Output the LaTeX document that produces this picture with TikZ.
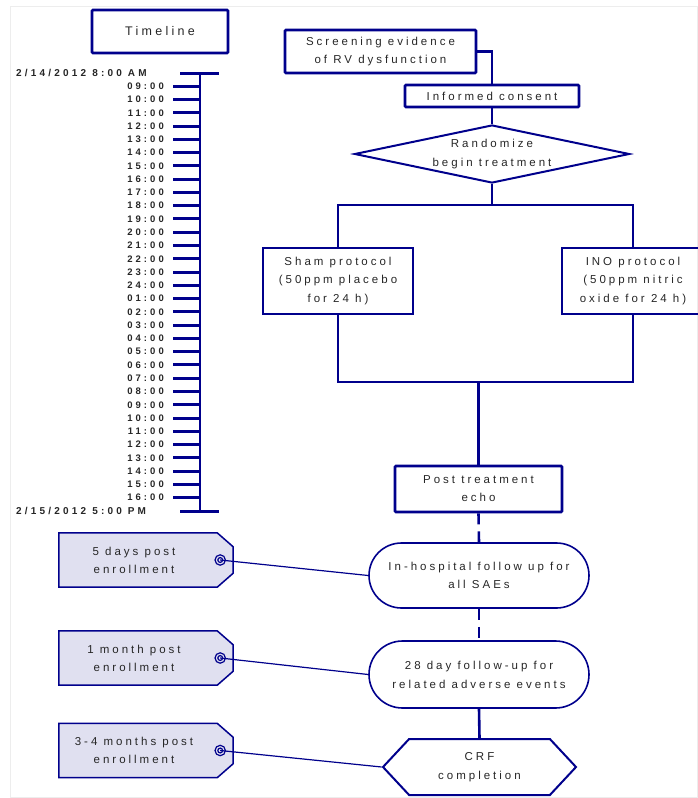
\documentclass[tikz,border=0pt]{standalone}
\usepackage{fontspec}
\setmainfont{Liberation Sans}[LetterSpace=26]
\newfontfamily\hourfont{Liberation Sans}[LetterSpace=32]
\usetikzlibrary{
    positioning,
    shapes.geometric,
    shapes.misc,
    shapes.symbols
}
\tikzset{
    % Colors
    chart color/.style={blue!55!black},
    text color/.style={text=black!85},
    tag fill/.style={fill=blue!35!gray!18!white},
    %
    % Boxes
    heavy box/.style={draw, chart color, line width=2.8pt, rounded corners=1pt, text color, align=center},
    plain box/.style={draw, chart color, line width=2pt, text color, align=center},
    round box/.style={draw, chart color, line width=1.6pt, rounded rectangle, text color, align=center,
        minimum width=220, inner sep=0pt},
    crf box/.style={draw, chart color, line width=2pt, signal, signal to=west and east,
        signal pointer angle=94, text color, align=center, minimum width=193, minimum height=56, inner sep=0pt},
    tag/.style={minimum width=174, minimum height=54, inner sep=0pt},
    tag outline/.style={chart color, line width=1.5pt, tag fill},
    tag text/.style={text color, align=center, inner sep=0pt},
    %
    % Lines
    flow/.style={chart color, line width=2.6pt},
    dashed flow/.style={flow, dash pattern=on 11pt off 7pt},
    tag line/.style={chart color, line width=1.2pt},
    %
    % Timeline
    axis line/.style={chart color, line width=2.6pt},
    tick/.style={chart color, line width=3pt},
    hour label/.style={text color, anchor=east, inner sep=0pt, font=\fontsize{9.5}{11}\hourfont\bfseries},
    date label/.style={hour label, anchor=west, font=\fontsize{10}{11}\hourfont\bfseries}
}
\tikzstyle{every node}=[font=\fontsize{11.5}{18}\selectfont]

\begin{document}
\begin{tikzpicture}[x=1pt, y=-1pt]
    \useasboundingbox (0,0) rectangle (698,798);
    \draw[black!7] (10,6) rectangle (697.5,797);

    % Timeline
    \node[heavy box, minimum width=136, minimum height=43, font=\fontsize{12.5}{14}\selectfont] (timeline) at (160,31.5) {Timeline};
    \coordinate (tl top) at (200,73);
    \coordinate (tl bot) at (200,511);
    \draw[axis line] (tl top) -- (tl bot);
    \draw[tick] ([xshift=-20]tl top) -- ([xshift=19]tl top);
    \draw[tick] ([xshift=-20]tl bot) -- ([xshift=19]tl bot);
    \node[date label] (start) at (16,73) {2/14/2012 8:00 AM};
    \node[date label] (end) at (16,511) {2/15/2012 5:00 PM};
    \foreach \h [count=\i] in {09,10,11,12,13,14,15,16,17,18,19,20,21,22,23,24,
                               01,02,03,04,05,06,07,08,09,10,11,12,13,14,15,16}{
        \node[hour label] (h\i) at (164,{73+\i*13.27}) {\h:00};
        \draw[tick] (173,{73+\i*13.27}) -- (200,{73+\i*13.27});
    }

    % Flow chart
    \node[heavy box, minimum width=191, minimum height=43, inner sep=0pt] (screen) at (380.5,51.5) {Screening evidence\\of RV dysfunction};
    \node[heavy box, minimum width=174, minimum height=22, inner sep=0pt] (consent) at (492,96) {Informed consent};
    \node[plain box, diamond, aspect=4.74, inner sep=0pt, minimum width=275, minimum height=58] (rand) at (492,154) {Randomize\\[1pt]begin treatment};
    \node[plain box, minimum width=150, minimum height=66, inner sep=0pt] (sham) at (338,281) {Sham protocol\\[0.5pt](50ppm placebo\\[0.5pt]for 24 h)};
    \node[plain box, minimum width=142, minimum height=66, inner sep=0pt] (ino) at (633,281) {INO protocol\\[0.5pt](50ppm nitric\\[0.5pt]oxide for 24 h)};
    \node[heavy box, minimum width=167, minimum height=46, inner sep=0pt] (post) at (478.5,489) {Post treatment\\echo};
    \node[round box, minimum height=65] (hosp) at (479,575.5) {In-hospital follow up for\\all SAEs};
    \node[round box, minimum height=67] (day28) at (479,674.5) {28 day follow-up for\\[1pt]related adverse events};
    \node[crf box] (crf) at (479.5,767) {CRF\\[1pt]completion};

    \coordinate (split) at (492,205);
    \coordinate (merge) at (478.5,382);
    \draw[flow] (screen.east) -| (consent.north);
    \draw[flow] (consent.south) -- (rand.north);
    \draw[flow] (rand.south) -- (split);
    \draw[flow] (sham.north) |- (split) -| (ino.north);
    \draw[flow] (sham.south) |- (merge) -| (ino.south);
    \draw[flow] (merge) -- (post.north);
    \draw[dashed flow] (post.south) -- (hosp.north);
    \draw[dashed flow] (hosp.south) -- (day28.north);
    \draw[flow] (day28.south) -- (crf.north);

    % Tags
    \node[tag] (tag1) at (146,560) {};
    \node[tag] (tag2) at (146,658) {};
    \node[tag] (tag3) at (146,750.5) {};
    \foreach \n/\target in {1/hosp, 2/day28, 3/crf}{
        \filldraw[tag outline] (tag\n.north west) -- ([xshift=-16pt]tag\n.north east)
            -- ([yshift=-14pt]tag\n.north east) -- ([yshift=14pt]tag\n.south east)
            -- ([xshift=-16pt]tag\n.south east) -- (tag\n.south west) -- cycle;
        \coordinate (eye\n) at ([xshift=-13pt]tag\n.east);
        \draw[tag line] (eye\n) circle[radius=5.2] (eye\n) circle[radius=2.4];
        \draw[tag line] (eye\n) -- (\target.west);
    }
    \node[tag text] (tag1 text) at ([xshift=-12pt]tag1.center) {5 days post\\enrollment};
    \node[tag text] (tag2 text) at ([xshift=-12pt]tag2.center) {1 month post\\enrollment};
    \node[tag text] (tag3 text) at ([xshift=-12pt]tag3.center) {3-4 months post\\enrollment};
\end{tikzpicture}
\end{document}
